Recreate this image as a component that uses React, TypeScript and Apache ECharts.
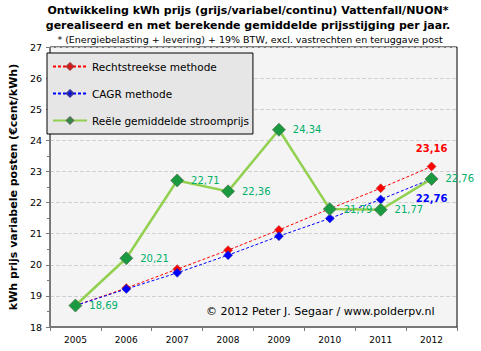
import React, { useEffect, useRef } from "react";
import * as echarts from "echarts";

const years = ["2005", "2006", "2007", "2008", "2009", "2010", "2011", "2012"];
const rechtstreeks = [18.69, 19.25, 19.86, 20.47, 21.12, 21.8, 22.46, 23.16];
const cagr = [18.69, 19.22, 19.74, 20.31, 20.92, 21.49, 22.1, 22.76];
const reeel = [18.69, 20.21, 22.71, 22.36, 24.34, 21.79, 21.77, 22.76];

const FONT = "DejaVu Sans";
const fmt = (v: number) => v.toFixed(2).replace(".", ",");

export default function App() {
  const ref = useRef<HTMLDivElement>(null);
  useEffect(() => {
    document.body.style.margin = "0";
    if (!ref.current) return;
    const chart = echarts.init(ref.current, null, { renderer: "svg" });
    const lastIdx = years.length - 1;
    chart.setOption({
      animation: false,
      backgroundColor: "#fff",
      textStyle: { fontFamily: FONT },
      graphic: [
        {
          type: "text",
          x: 248,
          y: 5,
          style: {
            text: "Ontwikkeling kWh prijs (grijs/variabel/continu) Vattenfall/NUON*",
            font: `bold 11px "${FONT}"`,
            fill: "#000",
            align: "center",
          },
        },
        {
          type: "text",
          x: 248,
          y: 20,
          style: {
            text: "gerealiseerd en met berekende gemiddelde prijsstijging per jaar.",
            font: `bold 11px "${FONT}"`,
            fill: "#000",
            align: "center",
          },
        },
        {
          type: "text",
          x: 250,
          y: 34,
          style: {
            text: "* (Energiebelasting + levering) + 19% BTW, excl. vastrechten en teruggave post",
            font: `9.5px "${FONT}"`,
            fill: "#000",
            align: "center",
          },
        },
        {
          type: "text",
          left: 206,
          top: 306,
          style: {
            text: "© 2012 Peter J. Segaar / www.polderpv.nl",
            font: `11px "${FONT}"`,
            fill: "#000",
          },
        },
      ],
      grid: {
        left: 41,
        right: 24,
        top: 47,
        bottom: 24,
        show: true,
        backgroundColor: "#f4f4f4",
        borderColor: "#000",
        borderWidth: 1,
      },
      legend: {
        orient: "vertical",
        left: 47,
        top: 53,
        padding: [8, 4, 8, 5],
        itemGap: 16,
        itemWidth: 34,
        itemHeight: 8,
        backgroundColor: "#e6e6e6",
        borderColor: "#000",
        borderWidth: 1,
        textStyle: { fontFamily: FONT, fontSize: 10.5, color: "#000" },
        data: ["Rechtstreekse methode", "CAGR methode", "Reële gemiddelde stroomprijs"],
      },
      xAxis: {
        type: "category",
        data: years,
        boundaryGap: true,
        axisLine: { lineStyle: { color: "#777" } },
        axisTick: { show: true, lineStyle: { color: "#777" }, length: 4 },
        axisLabel: { fontFamily: FONT, fontSize: 9, color: "#000", margin: 8 },
      },
      yAxis: {
        type: "value",
        min: 18,
        max: 27,
        interval: 1,
        axisLine: { show: true, lineStyle: { color: "#777" } },
        axisTick: { show: true, lineStyle: { color: "#777" }, length: 4 },
        minorTick: { show: true, splitNumber: 2, length: 3, lineStyle: { color: "#777" } },
        splitLine: { lineStyle: { color: "#cfcfcf", type: "dashed" } },
        axisLabel: { fontFamily: FONT, fontSize: 9.5, color: "#000", margin: 8 },
        name: "kWh prijs variabele posten (€cent/kWh)",
        nameLocation: "middle",
        nameGap: 30,
        nameTextStyle: { fontFamily: FONT, fontSize: 11, fontWeight: "bold", color: "#000" },
      },
      series: [
        {
          name: "Rechtstreekse methode",
          type: "line",
          data: rechtstreeks.map((v, i) =>
            i === lastIdx
              ? {
                  value: v,
                  label: {
                    show: true,
                    position: "top",
                    distance: 8,
                    color: "#ff0000",
                    fontWeight: "bold",
                    fontFamily: FONT,
                    fontSize: 10,
                    formatter: (p: any) => fmt(p.value),
                  },
                }
              : v
          ),
          symbol: "diamond",
          symbolSize: 9,
          z: 3,
          lineStyle: { color: "#ff0000", width: 1, type: [3, 2] },
          itemStyle: { color: "#ff0000", borderColor: "#aa3333", borderWidth: 0.5 },
        },
        {
          name: "CAGR methode",
          type: "line",
          data: cagr.map((v, i) =>
            i === lastIdx
              ? {
                  value: v,
                  label: {
                    show: true,
                    position: "bottom",
                    distance: 10,
                    color: "#0000ff",
                    fontWeight: "bold",
                    fontFamily: FONT,
                    fontSize: 10,
                    formatter: (p: any) => fmt(p.value),
                  },
                }
              : v
          ),
          symbol: "diamond",
          symbolSize: 9,
          z: 3,
          lineStyle: { color: "#0000ff", width: 1, type: [3, 2] },
          itemStyle: { color: "#0000ff", borderColor: "#333399", borderWidth: 0.5 },
        },
        {
          name: "Reële gemiddelde stroomprijs",
          type: "line",
          data: reeel,
          symbol: "diamond",
          symbolSize: 13,
          z: 4,
          lineStyle: { color: "#92d050", width: 2.5 },
          itemStyle: { color: "#1a9a40", borderColor: "#557755", borderWidth: 0.8 },
          label: {
            show: true,
            position: "right",
            distance: 7,
            color: "#00b06a",
            fontFamily: FONT,
            fontSize: 10,
            formatter: (p: any) => fmt(p.value),
          },
        },
      ],
    });
    return () => chart.dispose();
  }, []);
  return <div ref={ref} style={{ width: 481, height: 351 }} />;
}
